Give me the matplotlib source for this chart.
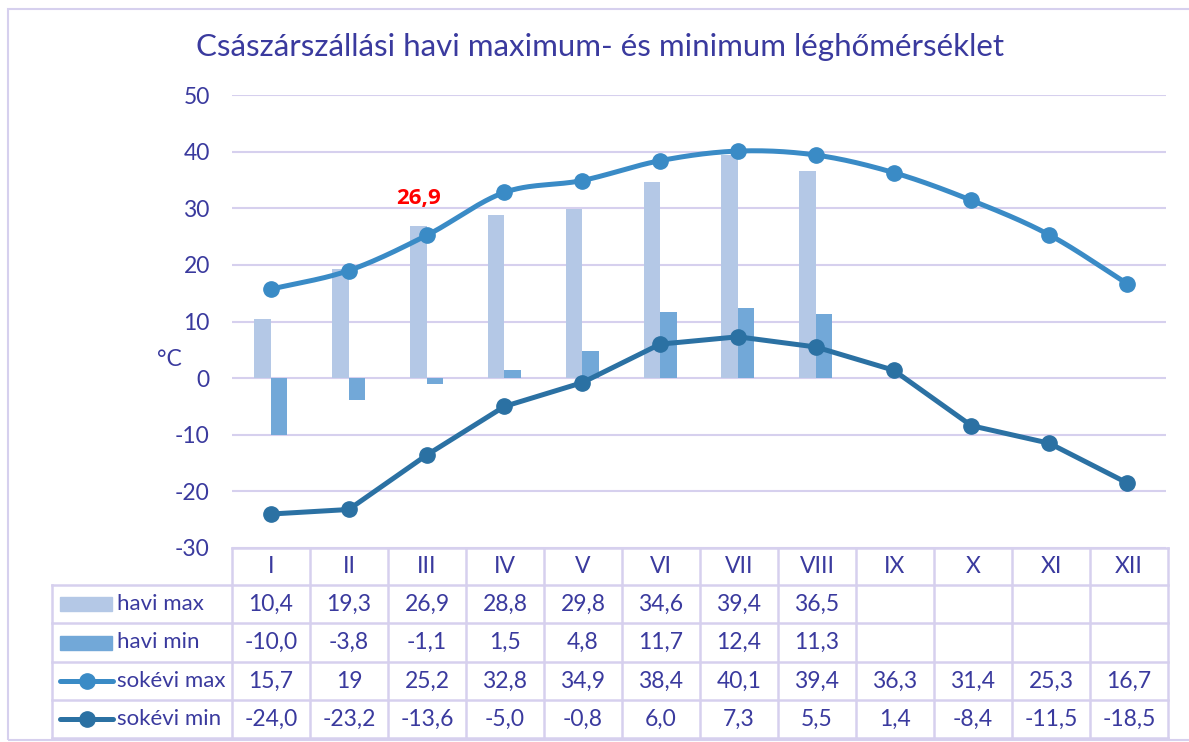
import numpy as np
import matplotlib
matplotlib.use("Agg")
import matplotlib.pyplot as plt
from matplotlib.lines import Line2D
from matplotlib.patches import Rectangle

# ---- data ----
months = ["I", "II", "III", "IV", "V", "VI", "VII", "VIII", "IX", "X", "XI", "XII"]
havi_max = [10.4, 19.3, 26.9, 28.8, 29.8, 34.6, 39.4, 36.5]
havi_min = [-10.0, -3.8, -1.1, 1.5, 4.8, 11.7, 12.4, 11.3]
sokevi_max = [15.7, 19, 25.2, 32.8, 34.9, 38.4, 40.1, 39.4, 36.3, 31.4, 25.3, 16.7]
sokevi_min = [-24.0, -23.2, -13.6, -5.0, -0.8, 6.0, 7.3, 5.5, 1.4, -8.4, -11.5, -18.5]
max_labels = ["10,4", "19,3", "26,9", "28,8", "29,8", "34,6", "39,4", "36,5"]
min_labels = ["-10,0", "-3,8", "-1,1", "1,5", "4,8", "11,7", "12,4", "11,3"]
smax_labels = ["15,7", "19", "25,2", "32,8", "34,9", "38,4", "40,1", "39,4", "36,3", "31,4", "25,3", "16,7"]
smin_labels = ["-24,0", "-23,2", "-13,6", "-5,0", "-0,8", "6,0", "7,3", "5,5", "1,4", "-8,4", "-11,5", "-18,5"]

# ---- styles ----
C_TEXT = "#3A3A9E"
C_GRID = "#D6D0EE"
C_BMAX = "#B4C8E6"
C_BMIN = "#72A8D8"
C_LMAX = "#3A8BC6"
C_LMIN = "#2B71A3"
FONT = ["Lato", "DejaVu Sans"]
FS = 16.5

plt.rcParams["font.family"] = FONT
plt.rcParams["axes.unicode_minus"] = False

W, H = 1189, 742


def fx(px):
    return px / W


def fy(py):
    return 1 - py / H


def smooth(y, n=30):
    # Catmull-Rom, similar to Excel's smoothed line
    x = np.arange(len(y), dtype=float)
    y = np.asarray(y, dtype=float)
    px = np.concatenate([[2 * x[0] - x[1]], x, [2 * x[-1] - x[-2]]])
    py = np.concatenate([[2 * y[0] - y[1]], y, [2 * y[-1] - y[-2]]])
    xs, ys = [], []
    t = np.linspace(0, 1, n)
    for i in range(1, len(px) - 2):
        for arr, out in ((px, xs), (py, ys)):
            p0, p1, p2, p3 = arr[i - 1], arr[i], arr[i + 1], arr[i + 2]
            out.extend(0.5 * ((2 * p1) + (-p0 + p2) * t
                              + (2 * p0 - 5 * p1 + 4 * p2 - p3) * t ** 2
                              + (-p0 + 3 * p1 - 3 * p2 + p3) * t ** 3))
    return np.array(xs), np.array(ys)


fig = plt.figure(figsize=(W / 100, H / 100), dpi=100)

# chart border
fig.patches.append(Rectangle((fx(8), fy(740)), 1.2, fy(9) - fy(740),
                             transform=fig.transFigure, fill=False,
                             edgecolor=C_GRID, lw=1.5))

ax = fig.add_axes([fx(232), fy(548), fx(1166) - fx(232), fy(95) - fy(548)])
ax.set_xlim(-0.5, 11.5)
ax.set_ylim(-30, 50)
ax.set_yticks(np.arange(-30, 51, 10))
ax.set_xticks([])
for s in ax.spines.values():
    s.set_visible(False)
ax.grid(axis="y", color=C_GRID, lw=1.5)
ax.set_axisbelow(True)
ax.tick_params(axis="y", length=0, labelsize=FS, labelcolor=C_TEXT, pad=16)

x = np.arange(len(months))
bw = 0.212
xb = np.arange(len(havi_max))
ax.bar(xb - bw / 2, havi_max, width=bw, color=C_BMAX, zorder=2)
ax.bar(xb + bw / 2, havi_min, width=bw, color=C_BMIN, zorder=2)

sx, sy = smooth(sokevi_max)
ax.plot(sx, sy, color=C_LMAX, lw=3.6, zorder=3, solid_capstyle="round")
ax.plot(x, sokevi_max, "o", color=C_LMAX, ms=11, zorder=4)
ax.plot(x, sokevi_min, "-o", color=C_LMIN, lw=3.6, ms=11, zorder=3)

ax.annotate("26,9", (2 - bw / 2, havi_max[2]), xytext=(0, 12),
            textcoords="offset points", ha="center", va="bottom",
            color="#FF0000", fontsize=16, fontweight="bold",
            family=["Open Sans", "DejaVu Sans"])

fig.text(0.505, fy(47), "Császárszállási havi maximum- és minimum léghőmérséklet",
         ha="center", va="center", color=C_TEXT, fontsize=22.5)
fig.text(fx(169), fy(360), "°C", ha="center", va="center", color=C_TEXT, fontsize=FS)

# ---- data table ----
tx0, tx1 = 232, 1168
lx = 52
rows_y = [548, 585, 623, 662, 700, 738]
cw = (tx1 - tx0) / 12
lkw = dict(transform=fig.transFigure, color=C_GRID, lw=1.8)
# horizontal lines
fig.add_artist(Line2D([fx(tx0), fx(tx1)], [fy(rows_y[0])] * 2, **lkw))
for yy in rows_y[1:]:
    fig.add_artist(Line2D([fx(lx), fx(tx1)], [fy(yy)] * 2, **lkw))
# vertical lines
for i in range(13):
    xx = tx0 + i * cw
    fig.add_artist(Line2D([fx(xx)] * 2, [fy(rows_y[0]), fy(rows_y[-1])], **lkw))
fig.add_artist(Line2D([fx(lx)] * 2, [fy(rows_y[1]), fy(rows_y[-1])], **lkw))

tkw = dict(ha="center", va="center", color=C_TEXT, fontsize=FS)
rows = [months, max_labels, min_labels, smax_labels, smin_labels]
for r, vals in enumerate(rows):
    yc = (rows_y[r] + rows_y[r + 1]) / 2
    for i, v in enumerate(vals):
        fig.text(fx(tx0 + (i + 0.5) * cw), fy(yc), v, **tkw)

# legend keys in the table
names = ["havi max", "havi min", "sokévi max", "sokévi min"]
for r, name in enumerate(names):
    yc = (rows_y[r + 1] + rows_y[r + 2]) / 2
    fig.text(fx(117), fy(yc), name, ha="left", va="center", color=C_TEXT, fontsize=16)
    if r < 2:
        col = C_BMAX if r == 0 else C_BMIN
        fig.patches.append(Rectangle((fx(60), fy(yc + 7)), fx(112) - fx(60), fy(yc - 7) - fy(yc + 7),
                                     transform=fig.transFigure, color=col))
    else:
        col = C_LMAX if r == 2 else C_LMIN
        fig.add_artist(Line2D([fx(60), fx(113)], [fy(yc), fy(yc)], transform=fig.transFigure,
                              color=col, lw=3.6, solid_capstyle="round"))
        fig.add_artist(Line2D([fx(87)], [fy(yc)], transform=fig.transFigure,
                              color=col, marker="o", ms=11, lw=0))

fig.savefig("out.png", dpi=100)
